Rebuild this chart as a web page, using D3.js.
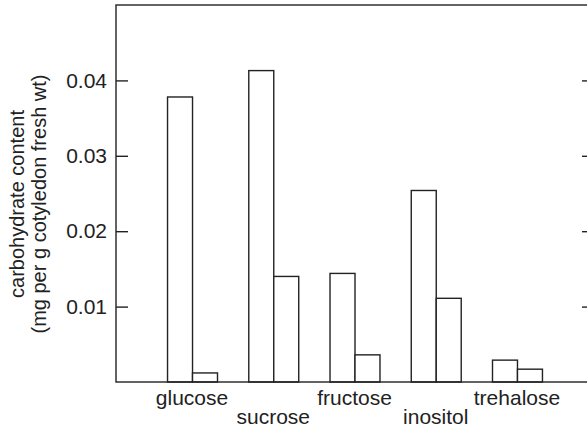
<!DOCTYPE html>
<html>
<head>
<meta charset="utf-8">
<script src="https://cdn.jsdelivr.net/npm/d3@7"></script>
<style>
  body { margin:0; background:#fff; }
  text { font-family: "Liberation Sans", Arial, sans-serif; fill:#222; }
</style>
</head>
<body>
<svg id="chart" width="587" height="433"></svg>
<script>
// carbohydrate per sugar, two bars per group
var sugars = ['glucose','sucrose','fructose','inositol','trehalose'];
var labelRow = [0,1,0,1,0];
var firstBar = [0.0378, 0.0413, 0.0144, 0.0254, 0.0029];
var secondBar = [0.0012, 0.0140, 0.0036, 0.0111, 0.0017];
var yTicks = [0.01, 0.02, 0.03, 0.04];

var svg = d3.select('#chart');
// note: "top" is taken by window.top, so use plot* names
var plotL = 116, plotR = 594, plotT = 5, plotB = 382;

var x = d3.scaleBand().domain(sugars).range([151.4, 557.6]).paddingInner(0.385).paddingOuter(0.1925);
var sub = d3.scaleBand().domain([0,1]).range([0, x.bandwidth()]);
var y = d3.scaleLinear().domain([0, 0.05]).range([plotB, plotT]);

var ink = '#222';

// bars
var groups = svg.selectAll('g.grp').data(sugars).enter().append('g')
  .attr('class','grp')
  .attr('transform', function(d){ return 'translate(' + x(d) + ',0)'; });

groups.each(function(d, i) {
  var vals = [firstBar[i], secondBar[i]];
  d3.select(this).selectAll('rect').data(vals).enter().append('rect')
    .attr('x', function(v, j){ return sub(j) + 0.5; })
    .attr('y', function(v){ return y(v); })
    .attr('width', sub.bandwidth())
    .attr('height', function(v){ return plotB - y(v); })
    .attr('fill', '#fff')
    .attr('stroke', ink)
    .attr('stroke-width', 1.4);
});

// frame
svg.append('rect')
  .attr('x', plotL).attr('y', plotT)
  .attr('width', plotR - plotL).attr('height', plotB - plotT)
  .attr('fill','none').attr('stroke', ink).attr('stroke-width', 1.4);

// left axis, ticks pointing in
var yAxis = d3.axisLeft(y).tickValues(yTicks).tickSize(-12).tickPadding(9)
  .tickFormat(d3.format('.2f'));
var ya = svg.append('g').attr('transform','translate(' + plotL + ',0)').call(yAxis);
ya.select('.domain').remove();
ya.selectAll('line').attr('stroke', ink).attr('stroke-width', 1.4);
ya.selectAll('text').attr('font-size', 21).attr('fill', ink)
  .attr('font-family','"Liberation Sans", Arial, sans-serif');

// right axis ticks
var ra = svg.append('g').attr('transform','translate(' + plotR + ',0)')
  .call(d3.axisRight(y).tickValues(yTicks).tickSize(-12).tickFormat(''));
ra.select('.domain').remove();
ra.selectAll('line').attr('stroke', ink).attr('stroke-width', 1.4);

// category labels, staggered
svg.selectAll('text.cat').data(sugars).enter().append('text')
  .attr('class','cat')
  .attr('x', function(d){ return x(d) + x.bandwidth()/2; })
  .attr('y', function(d, i){ return labelRow[i] ? 423.5 : 405; })
  .attr('text-anchor','middle')
  .attr('font-size', 21)
  .text(function(d){ return d; });

// y title
var title = svg.append('text')
  .attr('transform','translate(24,204) rotate(-90)')
  .attr('text-anchor','middle')
  .attr('font-size', 20);
title.append('tspan').attr('x',0).attr('dy',0).text('carbohydrate content');
title.append('tspan').attr('x',0).attr('dy',22).text('(mg per g cotyledon fresh wt)');
</script>
</body>
</html>
